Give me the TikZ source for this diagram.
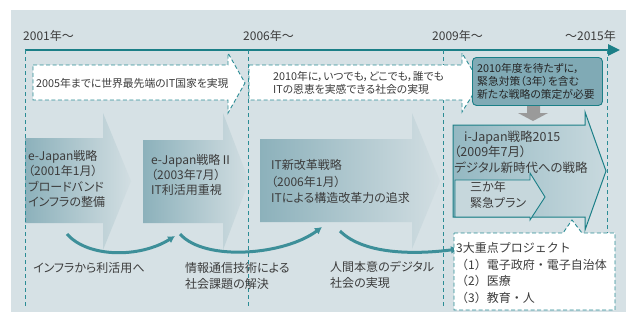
\documentclass[tikz,border=0pt]{standalone}
\usepackage{fontspec}
\setmainfont[RawFeature=+palt]{Noto Sans CJK JP}
\newfontfamily\jpfull{Noto Sans CJK JP}
\usetikzlibrary{arrows.meta}
\definecolor{bgc}{HTML}{D6E1E5}
\definecolor{tealc}{HTML}{1B7F87}
\definecolor{dashc}{HTML}{2B8C95}
\definecolor{arL}{HTML}{8CB1BB}
\definecolor{arR}{HTML}{D2DEE2}
\definecolor{ijL}{HTML}{94B8C2}
\definecolor{ijR}{HTML}{C8D9DE}
\definecolor{boxc}{HTML}{80AAB5}
\definecolor{txtc}{HTML}{3C3C3C}
\definecolor{curvc}{HTML}{3D8F99}
\definecolor{planc}{HTML}{C6D7DC}
\definecolor{grayc}{HTML}{9A9A9A}
\begin{document}
\begin{tikzpicture}[x=1pt,y=-1pt,
  txt/.style={inner sep=0pt, text=txtc, align=left, anchor=west},
  f12/.style={font=\fontsize{12}{16}\selectfont},
  f11/.style={font=\fontsize{10.8}{13}\selectfont},
  bigarrow/.style={left color=arL, right color=arR},
  dasharrow/.style={fill=white, draw=dashc, line width=0.9pt, dash pattern=on 4pt off 2.5pt},
  vdash/.style={draw=dashc, line width=0.8pt, dash pattern=on 4pt off 3pt},
  curve/.style={draw=curvc, line width=3pt, -{Latex[length=7pt,width=8pt]}}]
\useasboundingbox (0,0) rectangle (626,322);
\fill[bgc] (11,10) rectangle (626,312);

% big arrows
\shade[bigarrow] (25,138) -- (103,138) -- (103,113) -- (131,181) -- (103,250) -- (103,223) -- (25,223) -- cycle;
\shade[bigarrow] (143,140) -- (223,140) -- (223,113) -- (249,181) -- (223,250) -- (223,223) -- (143,223) -- cycle;
\shade[bigarrow] (260,139) -- (412,139) -- (412,113) -- (440,181) -- (412,249) -- (412,222) -- (260,222) -- cycle;

% timeline
\coordinate (t0) at (25,50);
\coordinate (t1) at (620,50);
\draw[tealc, line width=2.5pt, -{Triangle[length=12pt,width=11pt]}] (t0) -- (t1);

% vertical dashed lines
\draw[vdash] (25,50) -- (25,306);
\draw[vdash] (248,50) -- (248,306);
\draw[vdash] (443,50) -- (443,306);
\draw[vdash] (607,50) -- (607,233);

% year labels
\node[txt, f12] (y1) at (23,36) {2001年～};
\node[txt, f12] (y2) at (243,36) {2006年～};
\node[txt, f12] (y3) at (432,36) {2009年～};
\node[txt, f12, anchor=east] (y4) at (616,36) {～2015年};

% dashed arrows
\path[dasharrow] (33,65) -- (228,65) -- (228,53) -- (245,83) -- (228,113) -- (228,100) -- (33,100) -- cycle;
\path[dasharrow] (249,65) -- (462,65) -- (462,53) -- (480,83) -- (462,112) -- (462,100) -- (249,100) -- cycle;
\node[txt, f11] (d1) at (36,83) {2005年までに世界最先端のIT国家を実現};
\node[txt, f11] (d2) at (273,83) {2010年に，いつでも，どこでも，誰でも\\ITの恩恵を実感できる社会の実現};

% dark box
\node[draw=tealc, fill=boxc, line width=0.9pt, rounded corners=4pt, minimum width=130pt, minimum height=48pt, anchor=north west] (box) at (472,57) {};
\node[txt, f11, text=black!85] (boxt) at (477,81) {2010年度を待たずに，\\緊急対策（3年）を含む\\新たな戦略の策定が必要};

% gray arrow
\fill[grayc] (527,106) -- (540,106) -- (540,113) -- (548,113) -- (533,121) -- (518,113) -- (527,113) -- cycle;

% i-Japan arrow
\path[left color=ijL, right color=ijR, draw=tealc, line width=1pt] (453,125) -- (585,125) -- (585,112) -- (606,171) -- (585,230) -- (585,217) -- (453,217) -- cycle;
\path[fill=planc, draw=tealc, line width=0.9pt] (455,180) -- (530,180) -- (530,173) -- (545,197) -- (530,220) -- (530,217) -- (455,217) -- cycle;
\node[txt, font=\fontsize{12.5}{15.5}\selectfont] (ij) at (454,152) {\hspace*{10pt}i-Japan戦略2015\\（2009年7月）\\デジタル新時代への戦略};
\node[txt, f12] (plan) at (470,195) {三か年\\緊急プラン};

% arrow texts
\node[txt, font=\fontsize{12}{15.5}\selectfont] (a1) at (28,179) {e-Japan戦略\\（2001年1月）\\ブロードバンド\\インフラの整備};
\node[txt, font=\fontsize{12}{15}\selectfont] (a2) at (151,175) {e-Japan戦略Ⅱ\\（2003年7月）\\IT利活用重視};
\node[txt, font=\fontsize{12}{16.5}\selectfont] (a3) at (271,181.5) {IT新改革戦略\\（2006年1月）\\ITによる構造改革力の追求};

% curves
\coordinate (c1s) at (67,234);
\coordinate (c1e) at (175,236);
\coordinate (c2s) at (180,234);
\coordinate (c2e) at (322,227);
\coordinate (c3s) at (340,231);
\coordinate (c3e) at (458,249);
\draw[curve] (c1s) .. controls (88,258) and (140,258) .. (c1e);
\draw[curve] (c2s) .. controls (205,262) and (285,255) .. (c2e);
\draw[curve] (c3s) .. controls (365,256) and (420,254) .. (c3e);

% curve labels
\node[txt, f12] (l1) at (33,268) {インフラから利活用へ};
\node[txt, f12] (l2) at (185,276) {情報通信技術による\\社会課題の解決};
\node[txt, f12] (l3) at (330,275) {人間本意のデジタル\\社会の実現};

% project callout
\path[dasharrow] (454,233) -- (563,233) -- (572,220) -- (582,233) -- (615,233) -- (615,310) -- (454,310) -- cycle;
\node[txt, font=\jpfull\fontsize{12}{16.7}\selectfont] (proj) at (456,273) {3大重点プロジェクト\\（1）電子政府・電子自治体\\（2）医療\\（3）教育・人};
\end{tikzpicture}
\end{document}
